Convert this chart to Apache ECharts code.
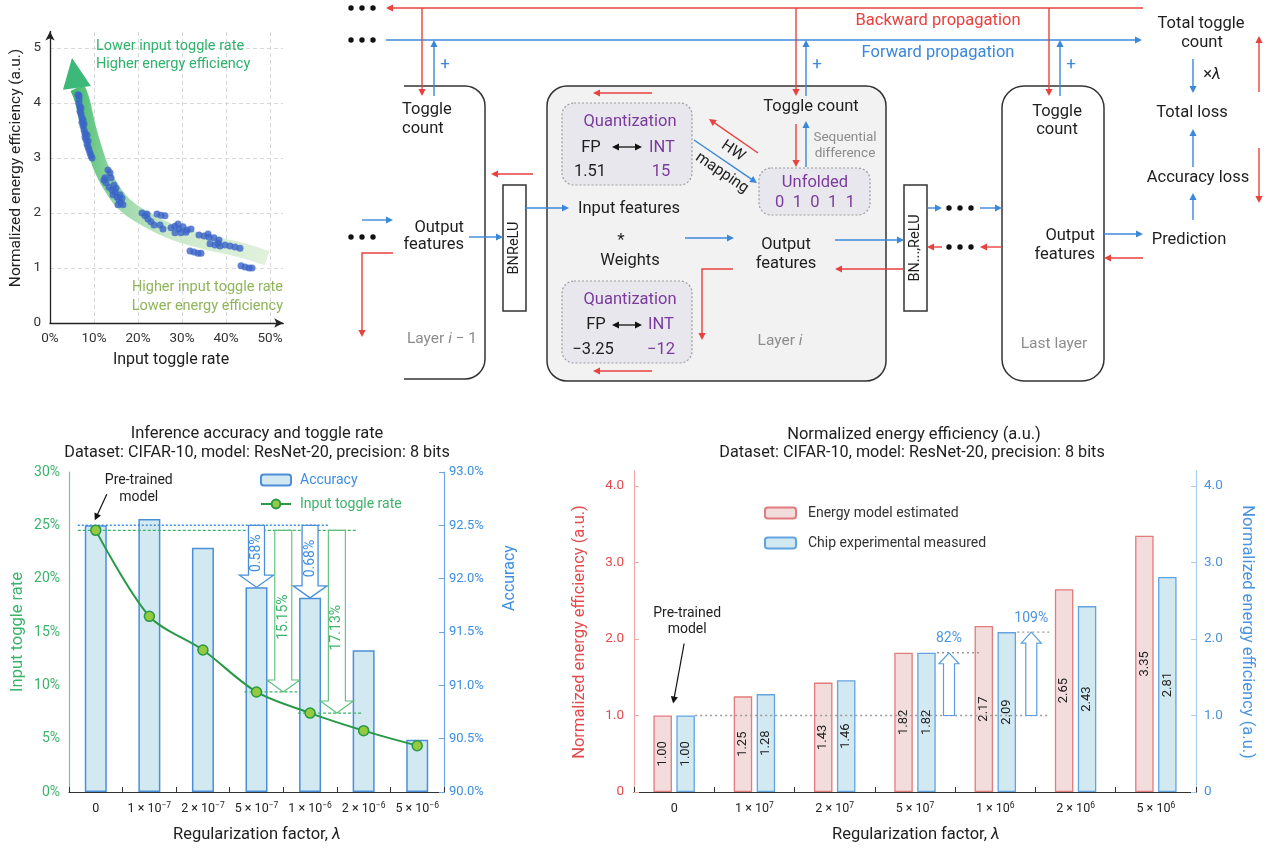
<!DOCTYPE html>
<html><head><meta charset="utf-8">
<script src="https://cdn.jsdelivr.net/npm/echarts@6/dist/echarts.min.js"></script>
<style>html,body{margin:0;padding:0;background:#fff;}#chart{width:1269px;height:848px;}</style>
</head><body><div id="chart"></div>
<script>
// ---------------- DATA ----------------
// Panel a: measured points [input toggle rate (%), normalized energy efficiency]
const scatterPoints = [
  [6.36,4.15],[6.6,4.13],[6.59,4.07],[6.59,4.00],[6.82,3.93],[7.05,3.91],[6.82,3.85],[7.05,3.80],
  [7.27,3.73],[7.5,3.69],[7.27,3.65],[7.73,3.62],[7.5,3.58],[7.73,3.51],[7.95,3.45],[8.41,3.42],
  [7.95,3.38],[8.18,3.33],[8.64,3.31],[8.41,3.25],[8.64,3.20],[8.86,3.15],[9.09,3.09],[9.32,3.04],[9.55,3.00],
  [13.18,2.78],[13.64,2.73],[13.86,2.64],[12.5,2.64],[12.27,2.60],[12.73,2.55],[14.55,2.51],[13.41,2.47],
  [15.0,2.45],[14.09,2.42],[14.77,2.38],[14.32,2.33],[15.91,2.33],[15.23,2.29],[16.36,2.27],[15.68,2.24],
  [16.14,2.18],[15.45,2.15],[16.59,2.15],
  [20.91,2.00],[22.05,1.98],[21.59,1.95],[22.27,1.89],[22.95,1.84],[23.64,1.78],[24.32,1.98],[25.23,1.96],
  [26.14,1.95],[25.0,1.78],[25.68,1.71],
  [27.5,1.73],[28.41,1.76],[29.09,1.80],[29.32,1.71],[30.23,1.75],[31.14,1.69],[32.05,1.71],[28.41,1.64],
  [29.77,1.64],[30.91,1.65],
  [33.86,1.60],[35.0,1.58],[35.91,1.62],[36.14,1.56],[37.27,1.55],[38.41,1.51],
  [36.36,1.44],[38.18,1.45],[37.5,1.42],[38.64,1.40],[39.77,1.42],[40.91,1.40],[42.05,1.38],[43.18,1.36],
  [31.82,1.31],[32.73,1.29],[33.64,1.27],[34.32,1.27],
  [43.41,1.04],[44.32,1.02],[45.23,1.00],[45.91,1.00]
];
const trendCurve = [[49.3,1.18],[43.2,1.33],[35.7,1.47],[27.9,1.65],[20.9,1.93],[17.0,2.15],[14.3,2.42],
  [12.0,2.75],[10.2,3.15],[8.6,3.6],[7.3,4.05],[6.2,4.28]];
const trendArrowHead = [[2.95,4.24],[5.0,4.82],[9.3,4.31]];
const scatterXTicks = [0,10,20,30,40,50];
const scatterYTicks = [0,1,2,3,4,5];

// Panel b
const lambdaB = ['0','1 × 10^−7','2 × 10^−7','5 × 10^−7','1 × 10^−6','2 × 10^−6','5 × 10^−6'];
const accuracy = [92.50, 92.56, 92.29, 91.92, 91.82, 91.33, 90.49];
const toggleRate = [24.53, 16.47, 13.31, 9.38, 7.40, 5.75, 4.34];

// Panel c
const lambdaC = ['0','1 × 10^7','2 × 10^7','5 × 10^7','1 × 10^6','2 × 10^6','5 × 10^6'];
const energyEstimated = [1.00, 1.25, 1.43, 1.82, 2.17, 2.65, 3.35];
const chipMeasured = [1.00, 1.28, 1.46, 1.82, 2.09, 2.43, 2.81];
const energyTicks = [0,1,2,3,4];

// ---------------- STYLE ----------------
const FONT = "Roboto, 'Noto Sans', sans-serif";
const D_RED = '#e8413e', D_BLUE = '#3b88db', PURPLE = '#7a3b9c', GRAYT = '#8c8c8c', INK = '#1e1e1e';
const B_GREEN = '#3bb36b', B_BLUE = '#3d8ee0';
const C_RED = '#e24a4d', C_BLUE = '#4a93e0';
const DS = 16.5; // diagram text size

function catFmt(v){ const p = v.split('^'); return p[1] ? '{n|' + p[0] + '}{s|' + p[1] + '}' : '{n|' + p[0] + '}'; }
const richCat = {
  n:{fontSize:12.5, color:'#222', lineHeight:16, fontFamily:FONT},
  s:{fontSize:8.5, color:'#222', lineHeight:9, verticalAlign:'top', fontFamily:FONT}
};

const option = {
  animation:false,
  textStyle:{fontFamily:FONT},
  grid:[
    {left:50, top:31.5, width:233.2, height:291.5, containLabel:false, outerBoundsMode:'none'},
    {left:69, top:472, width:375, height:320, containLabel:false, outerBoundsMode:'none'},
    {left:634, top:470.7, width:562, height:321.3, containLabel:false, outerBoundsMode:'none'}
  ],
  xAxis:[
    {gridIndex:0, type:'value', min:0, max:53,
      axisLine:{show:true, symbol:['none','arrow'], symbolSize:[7,9], lineStyle:{color:'#222', width:1.3}},
      axisTick:{show:false}, splitLine:{show:false},
      axisLabel:{customValues:scatterXTicks, formatter:v=>v+'%', color:'#333', fontSize:13.5, margin:9}},
    {gridIndex:1, type:'category', data:lambdaB, boundaryGap:true,
      axisLine:{show:true, lineStyle:{color:'#333', width:1.2}},
      axisTick:{show:true, inside:true, length:5, lineStyle:{color:'#333'}},
      axisLabel:{interval:0, formatter:catFmt, rich:richCat, margin:9}},
    {gridIndex:2, type:'category', data:lambdaC, boundaryGap:true,
      axisLine:{show:true, lineStyle:{color:'#333', width:1.2}},
      axisTick:{show:true, inside:true, length:5, lineStyle:{color:'#333'}},
      axisLabel:{interval:0, formatter:catFmt, rich:richCat, margin:9}}
  ],
  yAxis:[
    {gridIndex:0, type:'value', min:0, max:5.3,
      axisLine:{show:true, symbol:['none','arrow'], symbolSize:[7,9], lineStyle:{color:'#222', width:1.3}},
      axisTick:{show:false}, splitLine:{show:false},
      axisLabel:{customValues:scatterYTicks, color:'#333', fontSize:13.5, margin:9}},
    {gridIndex:1, type:'value', position:'left', min:0, max:30, interval:5,
      axisLine:{show:true, lineStyle:{color:'#7cc48f', width:1.2}},
      axisTick:{show:false}, splitLine:{show:false},
      axisLabel:{formatter:v=>v+'%', color:B_GREEN, fontSize:14, margin:9}},
    {gridIndex:1, type:'value', position:'right', min:90, max:93, interval:0.5, startValue:90,
      axisLine:{show:true, lineStyle:{color:'#6aa7e4', width:1.2}},
      axisTick:{show:true, inside:true, length:5, lineStyle:{color:'#6aa7e4'}}, splitLine:{show:false},
      axisLabel:{formatter:v=>v.toFixed(1)+'%', color:B_BLUE, fontSize:13, margin:5}},
    {gridIndex:2, type:'value', position:'left', min:0, max:4.2,
      axisLine:{show:true, lineStyle:{color:'#f0a9aa', width:1.2}},
      axisTick:{show:true, inside:true, length:5, customValues:energyTicks, lineStyle:{color:'#f0a9aa'}},
      splitLine:{show:false},
      axisLabel:{customValues:energyTicks, formatter:v=>v===0?'0':v.toFixed(1), color:C_RED, fontSize:13.5, margin:10}},
    {gridIndex:2, type:'value', position:'right', min:0, max:4.2,
      axisLine:{show:true, lineStyle:{color:'#a9cdf0', width:1.2}},
      axisTick:{show:true, inside:true, length:5, customValues:energyTicks, lineStyle:{color:'#a9cdf0'}},
      splitLine:{show:false},
      axisLabel:{customValues:energyTicks, formatter:v=>v===0?'0':v.toFixed(1), color:C_BLUE, fontSize:13.5, margin:8}}
  ],
  legend:[
    {left:260, top:473, orient:'vertical', itemWidth:30, itemHeight:11, itemGap:10, padding:0, selectedMode:false,
      data:[{name:'Accuracy', textStyle:{color:B_BLUE}}, {name:'Input toggle rate', textStyle:{color:B_GREEN}}],
      textStyle:{fontSize:14, fontFamily:FONT, padding:[0,0,0,4]}},
    {left:764, top:506, orient:'vertical', itemWidth:31, itemHeight:11, itemGap:16, padding:0, selectedMode:false,
      data:['Energy model estimated','Chip experimental measured'],
      textStyle:{fontSize:14, color:'#333', fontFamily:FONT, padding:[0,0,0,7]}}
  ],
  series:[
    {type:'line', xAxisIndex:0, yAxisIndex:0, data:trendCurve, smooth:true, symbol:'none', silent:true, z:1,
      lineStyle:{width:15, cap:'butt', color:new echarts.graphic.LinearGradient(0,0,1,0,[
        {offset:0,color:'#3cb96b'},{offset:0.08,color:'#5ec47f'},{offset:0.22,color:'#98d7a6'},
        {offset:0.5,color:'#cbe9c9'},{offset:1,color:'#e3f2de'}])},
      markLine:{silent:true, symbol:['none','none'], z:0, label:{show:false},
        lineStyle:{type:[4,3], color:'#d9d9d9', width:1},
        data:[{yAxis:1},{yAxis:2},{yAxis:3},{yAxis:4},{yAxis:5},{xAxis:10},{xAxis:20},{xAxis:30},{xAxis:40},{xAxis:50}]}},
    {type:'scatter', xAxisIndex:0, yAxisIndex:0, data:scatterPoints, symbolSize:7, z:3,
      itemStyle:{color:'#3b64c8'}},
    {name:'Accuracy', type:'bar', xAxisIndex:1, yAxisIndex:2, data:accuracy, barWidth:22, z:2,
      itemStyle:{color:'#d3e9f1', borderColor:'#4a8fd8', borderWidth:1.5}},
    {name:'Input toggle rate', type:'line', xAxisIndex:1, yAxisIndex:1, data:toggleRate, smooth:0.3,
      symbol:'circle', symbolSize:10, z:20,
      lineStyle:{color:'#279a47', width:2}, itemStyle:{color:'#95c940', borderColor:'#279a47', borderWidth:1.5}},
    {name:'Energy model estimated', type:'bar', xAxisIndex:2, yAxisIndex:3, data:energyEstimated,
      barWidth:18.5, barGap:'24%', z:2,
      itemStyle:{color:'#f3dcdc', borderColor:'#e27b7c', borderWidth:1.3},
      label:{show:true, position:'inside', rotate:90, formatter:p=>p.value.toFixed(2), color:'#222', fontSize:13}},
    {name:'Chip experimental measured', type:'bar', xAxisIndex:2, yAxisIndex:4, data:chipMeasured,
      barWidth:18.5, barGap:'24%', z:2,
      itemStyle:{color:'#d3e9f1', borderColor:'#62a3e0', borderWidth:1.3},
      label:{show:true, position:'inside', rotate:90, formatter:p=>p.value.toFixed(2), color:'#222', fontSize:13}}
  ]
};

const chart = echarts.init(document.getElementById('chart'), null, {renderer:'canvas'});
chart.setOption(option);

// ---------------- GRAPHIC HELPERS ----------------
const G = [];
function T(x, y, text, o){
  o = o || {};
  const size = o.size || DS;
  const st = {text:text, fill:o.color || INK,
    font:(o.italic?'italic ':'normal ') + 'normal ' + size + 'px ' + FONT,
    textAlign:o.align || 'center', textVerticalAlign:o.va || 'middle',
    align:o.align || 'center', verticalAlign:o.va || 'middle'};
  if (o.rich) st.rich = o.rich;
  G.push({type:'text', x:x, y:y, rotation:o.rot || 0, z:o.z || 100, silent:true, style:st});
}
function L(x1, y1, x2, y2, color, w, dash, z){
  const st = {stroke:color, lineWidth:w || 1.4};
  if (dash) st.lineDash = dash;
  G.push({type:'line', silent:true, z:z || 100, shape:{x1:x1, y1:y1, x2:x2, y2:y2}, style:st});
}
function head(x1, y1, x2, y2, color, len, hw, z){
  len = len || 7; hw = hw || 3.6;
  const dx = x2 - x1, dy = y2 - y1, d = Math.hypot(dx, dy), ux = dx / d, uy = dy / d;
  const bx = x2 - ux * len, by = y2 - uy * len;
  G.push({type:'polygon', silent:true, z:z || 100,
    shape:{points:[[x2, y2], [bx - uy * hw, by + ux * hw], [bx + uy * hw, by - ux * hw]]}, style:{fill:color}});
}
function A(x1, y1, x2, y2, color, w, z){
  const dx = x2 - x1, dy = y2 - y1, d = Math.hypot(dx, dy);
  L(x1, y1, x2 - dx / d * 5, y2 - dy / d * 5, color, w || 1.4, null, z);
  head(x1, y1, x2, y2, color, 7, 3.6, z);
}
function PA(pts, color){
  const n = pts.length, a = pts[n - 2], b = pts[n - 1];
  const dx = b[0] - a[0], dy = b[1] - a[1], d = Math.hypot(dx, dy);
  const p2 = pts.slice(0, n - 1).concat([[b[0] - dx / d * 5, b[1] - dy / d * 5]]);
  G.push({type:'polyline', silent:true, z:100, shape:{points:p2}, style:{stroke:color, lineWidth:1.4, fill:null}});
  head(a[0], a[1], b[0], b[1], color);
}
function dots(x, y){
  for (let k = 0; k < 3; k++) G.push({type:'circle', silent:true, z:100, shape:{cx:x + k * 11, cy:y, r:2.7}, style:{fill:'#111'}});
}
function R(x, y, w, h, o){
  const st = {fill:o.fill || '#fff', stroke:o.stroke || '#333', lineWidth:o.lw || 1.5};
  if (o.dash) st.lineDash = o.dash;
  G.push({type:'rect', silent:true, z:o.z || 90, shape:{x:x, y:y, width:w, height:h, r:o.r || 0}, style:st});
}
function hollow(cx, y0, y1, ws, wh, hl, color, lw){
  const dir = Math.sign(y1 - y0), yb = y1 - dir * hl;
  G.push({type:'polygon', silent:true, z:10,
    shape:{points:[[cx - ws / 2, y0], [cx + ws / 2, y0], [cx + ws / 2, yb], [cx + wh / 2, yb], [cx, y1],
      [cx - wh / 2, yb], [cx - ws / 2, yb]]},
    style:{fill:'#fff', stroke:color, lineWidth:lw || 1.2}});
}
const it = (size, color) => ({
  a:{fontSize:size, fontFamily:FONT, fill:color, color:color},
  b:{fontSize:size, fontFamily:FONT, fill:color, color:color, fontStyle:'italic'}
});

// ---------------- PANEL A annotations ----------------
const headPx = trendArrowHead.map(p => chart.convertToPixel({gridIndex:0}, p));
G.push({type:'polygon', silent:true, z:2, shape:{points:headPx}, style:{fill:'#3cb878'}});
T(96, 46, 'Lower input toggle rate', {color:'#2fb36c', align:'left', size:14.5});
T(96, 64, 'Higher energy efficiency', {color:'#2fb36c', align:'left', size:14.5});
T(283, 287, 'Higher input toggle rate', {color:'#8fb55a', align:'right', size:14.5});
T(283, 306, 'Lower energy efficiency', {color:'#8fb55a', align:'right', size:14.5});
T(16, 168, 'Normalized energy efficiency (a.u.)', {rot:Math.PI / 2, size:15.5});
T(171, 360, 'Input toggle rate', {size:16});

// ---------------- PANEL B annotations ----------------
const cxB = i => chart.convertToPixel({xAxisIndex:1}, i);
const yAcc = v => chart.convertToPixel({yAxisIndex:2}, v);
const yTog = v => chart.convertToPixel({yAxisIndex:1}, v);
const stepB = cxB(1) - cxB(0);
T(257, 434, 'Inference accuracy and toggle rate', {size:16.5});
T(257, 453, 'Dataset: CIFAR-10, model: ResNet-20, precision: 8 bits', {size:16.2});
T(18, 632, 'Input toggle rate', {rot:Math.PI / 2, color:B_GREEN, size:16.5});
T(510, 578, 'Accuracy', {rot:Math.PI / 2, color:B_BLUE, size:16});
T(257, 835, '{a|Regularization factor, }{b|λ}', {rich:it(16.5, INK)});
const yA0 = yAcc(accuracy[0]), yT0 = yTog(toggleRate[0]);
L(cxB(0) - 18, yA0, cxB(4) + 18, yA0, '#3d8ee0', 1.5, [2, 2], 9);
L(cxB(0) - 18, yT0, cxB(5) - 7, yT0, '#3bb36b', 1.3, [3, 2], 9);
[3, 4].forEach(i => {
  const x = cxB(i), yb = yAcc(accuracy[i]);
  hollow(x, yA0, yb, 16, 34, 12, '#4a8fd8', 1.3);
  T(x, (yA0 + yb - 12) / 2 + 3, (accuracy[0] - accuracy[i]).toFixed(2) + '%', {rot:Math.PI / 2, color:B_BLUE, size:14, z:11});
});
[3, 4].forEach(i => {
  const x = cxB(i) + stepB / 2, yb = yTog(toggleRate[i]);
  hollow(x, yT0, yb, 17, 33, 12, '#5cbf7a', 1.1);
  T(x, (yT0 + yb - 12) / 2 + 12, (toggleRate[0] - toggleRate[i]).toFixed(2) + '%', {rot:Math.PI / 2, color:B_GREEN, size:14, z:11});
  L(cxB(i) - 12, yb, i === 3 ? cxB(i) + stepB / 2 + 14 : cxB(i + 1) - 2, yb, '#3bb36b', 1.3, [3, 2], 9);
});
T(cxB(0) + 43, yA0 - 45, 'Pre-trained', {size:14});
T(cxB(0) + 43, yA0 - 28, 'model', {size:14});
A(cxB(0) + 11, yA0 - 31, cxB(0) - 1, yA0 - 5, '#111', 1.2);

// ---------------- PANEL C annotations ----------------
const cxC = i => chart.convertToPixel({xAxisIndex:2}, i);
const yE = v => chart.convertToPixel({yAxisIndex:4}, v);
T(914, 435, 'Normalized energy efficiency (a.u.)', {size:16.5});
T(912, 453, 'Dataset: CIFAR-10, model: ResNet-20, precision: 8 bits', {size:16.2});
T(580, 632, 'Normalized energy efficiency (a.u.)', {rot:Math.PI / 2, color:C_RED, size:16.5});
T(1247, 632, 'Normalized energy efficiency (a.u.)', {rot:-Math.PI / 2, color:C_BLUE, size:16.5});
T(916, 835, '{a|Regularization factor, }{b|λ}', {rich:it(16.5, INK)});
const y1 = yE(chipMeasured[0]);
const dotEnd = cxC(4) + 54;
L(cxC(0) + 21, y1, dotEnd, y1, '#9a9a9a', 1.3, [2, 3], 9);
[[3, 34], [4, 36]].forEach(([i, off]) => {
  const yb = yE(chipMeasured[i]), x = cxC(i) + off;
  L(cxC(i) + 22, yb, i === 4 ? dotEnd : x + 30, yb, '#9a9a9a', 1.3, [2, 3], 9);
  hollow(x, y1, yb, 11, 20, 11, '#5a9de0', 1.2);
  T(x, yb - 14, Math.round((chipMeasured[i] / chipMeasured[0] - 1) * 100) + '%', {color:C_BLUE, size:14, z:11});
});
T(cxC(0) + 13, y1 - 102, 'Pre-trained', {size:14});
T(cxC(0) + 13, y1 - 86, 'model', {size:14});
A(cxC(0) + 10, y1 - 72, cxC(0) - 1, y1 - 12, '#111', 1.2);

// ---------------- DIAGRAM ----------------
dots(351, 8); dots(351, 40);
A(1143, 8, 386, 8, D_RED); A(386, 40, 1142, 40, D_BLUE);
T(938, 21, 'Backward propagation', {color:D_RED});
T(938, 53, 'Forward propagation', {color:D_BLUE});
[[422, 434], [796, 806], [1049, 1060]].forEach(([r, b]) => {
  A(r, 8, r, 96, D_RED); A(b, 96, b, 40, D_BLUE);
  T(b + 11, 65, '+', {color:D_BLUE, size:17});
});

// layer i-1 (open on the left)
const bx = 404, rx = 485, ty = 86, by = 379, rr = 20;
L(bx, ty, rx - rr, ty, '#333', 1.5, null, 90);
L(bx, by, rx - rr, by, '#333', 1.5, null, 90);
L(rx, ty + rr, rx, by - rr, '#333', 1.5, null, 90);
G.push({type:'arc', silent:true, z:90, shape:{cx:rx - rr, cy:ty + rr, r:rr, startAngle:-Math.PI / 2, endAngle:0, clockwise:true}, style:{stroke:'#333', lineWidth:1.5, fill:null}});
G.push({type:'arc', silent:true, z:90, shape:{cx:rx - rr, cy:by - rr, r:rr, startAngle:0, endAngle:Math.PI / 2, clockwise:true}, style:{stroke:'#333', lineWidth:1.5, fill:null}});
T(402, 110, 'Toggle', {align:'left'});
T(402, 129, 'count', {align:'left'});
T(464, 228, 'Output', {align:'right'});
T(464, 245, 'features', {align:'right'});
T(442, 339, '{a|Layer }{b|i}{a| − 1}', {rich:it(15.5, GRAYT)});
dots(351, 237);
A(362, 220, 393, 220, D_BLUE);
PA([[393, 253], [362, 253], [362, 337]], D_RED);
A(469, 237, 503, 237, D_BLUE);
A(533, 174, 491, 174, D_RED);
R(503, 185, 23, 126, {});
T(514.5, 248, 'BNReLU', {rot:Math.PI / 2, size:14.5});

// layer i
R(547, 86, 339, 295, {fill:'#f2f2f2', r:20, z:80});
A(652, 93, 593, 93, D_RED);
A(652, 371, 593, 371, D_RED);
R(562, 103, 130, 82, {fill:'#e9e7ee', stroke:'#9c9c9c', lw:1.2, dash:[2, 2], r:12, z:85});
R(562, 281, 130, 82, {fill:'#e9e7ee', stroke:'#9c9c9c', lw:1.2, dash:[2, 2], r:12, z:85});
T(630, 122, 'Quantization', {color:PURPLE});
T(591, 148, 'FP'); T(662, 148, 'INT', {color:PURPLE});
A(627, 147, 642, 147, '#111', 1.3); A(627, 147, 612, 147, '#111', 1.3);
T(590, 172, '1.51'); T(661, 172, '15', {color:PURPLE});
T(630, 300, 'Quantization', {color:PURPLE});
T(596, 325, 'FP'); T(661, 325, 'INT', {color:PURPLE});
A(627, 325, 642, 325, '#111', 1.3); A(627, 325, 612, 325, '#111', 1.3);
T(593, 350, '−3.25'); T(661, 350, '−12', {color:PURPLE});
A(694, 140, 757, 183, D_BLUE);
A(758, 153, 709, 119, D_RED);
T(733, 151, 'HW', {rot:-0.6, size:15.5});
T(722, 173, 'mapping', {rot:-0.6, size:15.5});
T(811, 107, 'Toggle count');
A(796, 124, 796, 167, D_RED);
A(806, 167, 806, 121, D_BLUE);
T(845, 138, 'Sequential', {color:GRAYT, size:13.5});
T(845, 154, 'difference', {color:GRAYT, size:13.5});
R(759, 168, 111, 47, {fill:'#e9e7ee', stroke:'#9c9c9c', lw:1.2, dash:[2, 2], r:12, z:85});
T(815, 183, 'Unfolded', {color:PURPLE});
T(815, 203, '0\u20021\u20020\u20021\u20021', {color:PURPLE});
A(526, 208, 569, 208, D_BLUE);
T(578, 209, 'Input features', {align:'left'});
T(621, 241, '*', {size:17});
T(630, 261, 'Weights');
A(685, 238, 734, 238, D_BLUE);
T(786, 245, 'Output');
T(786, 264, 'features');
A(835, 240, 904, 240, D_BLUE);
A(904, 269, 835, 269, D_RED);
PA([[733, 269], [702, 269], [702, 340]], D_RED);
T(780, 341, '{a|Layer }{b|i}', {rich:it(15.5, GRAYT)});

// BN...,ReLU and dots
R(904, 185, 23, 126, {});
T(915.5, 248, 'BN...,ReLU', {rot:Math.PI / 2, size:14.5});
A(927, 208, 942, 208, D_BLUE); dots(949, 208); A(980, 208, 1002, 208, D_BLUE);
A(1002, 247, 980, 247, D_RED); dots(949, 247); A(942, 247, 927, 247, D_RED);

// last layer
R(1002, 86, 102, 295, {r:22});
T(1057, 112, 'Toggle');
T(1057, 130, 'count');
T(1095, 236, 'Output', {align:'right'});
T(1095, 255, 'features', {align:'right'});
T(1054, 344, 'Last layer', {color:GRAYT, size:15.5});
A(1104, 234, 1143, 234, D_BLUE);
A(1143, 258, 1104, 258, D_RED);
T(1189, 240, 'Prediction');
A(1193, 220, 1193, 193, D_BLUE);
T(1198, 178, 'Accuracy loss');
A(1193, 167, 1193, 129, D_BLUE);
T(1192, 113, 'Total loss');
A(1193, 59, 1193, 93, D_BLUE);
T(1212, 75, '{a|×}{b|λ}', {rich:it(DS, INK)});
T(1201, 24, 'Total toggle');
T(1202, 43, 'count');
A(1259, 92, 1259, 36, D_RED);
A(1259, 148, 1259, 203, D_RED);

chart.setOption({graphic:{elements:G}});
</script>
</body></html>
